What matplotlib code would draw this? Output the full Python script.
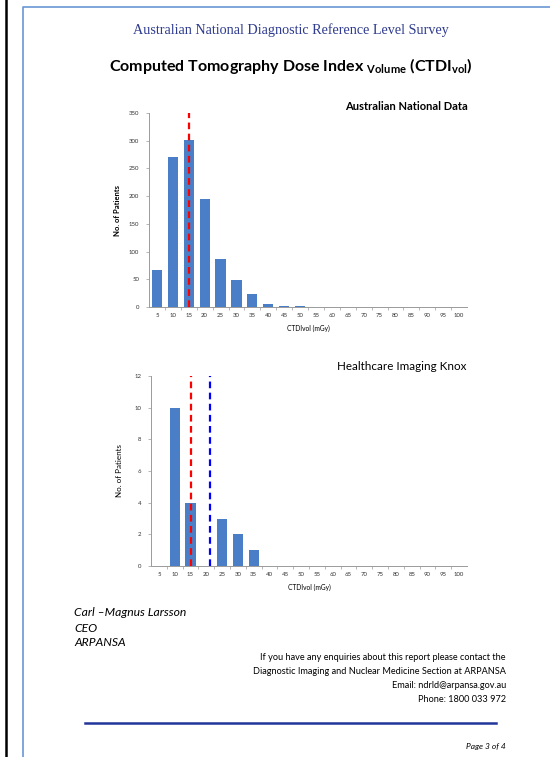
import matplotlib
matplotlib.use('Agg')
import matplotlib.pyplot as plt
from matplotlib.lines import Line2D

plt.rcParams['font.family'] = ['Lato', 'DejaVu Sans']

# CTDIvol bins (mGy)
ctdi_bins = [5, 10, 15, 20, 25, 30, 35, 40, 45, 50, 55, 60, 65, 70, 75, 80, 85, 90, 95, 100]
national_counts = [67, 270, 301, 195, 87, 48, 24, 5, 1, 1, 0, 0, 0, 0, 0, 0, 0, 0, 0, 0]
knox_counts = [0, 10, 4, 0, 3, 2, 1, 0, 0, 0, 0, 0, 0, 0, 0, 0, 0, 0, 0, 0]

national_drl = 15      # red dashed line
knox_median = 21.3     # blue dashed line

national_yticks = [0, 50, 100, 150, 200, 250, 300, 350]
knox_yticks = [0, 2, 4, 6, 8, 10, 12]

W, H = 550, 757
fig = plt.figure(figsize=(W / 100, H / 100), dpi=100)
fig.patch.set_facecolor('white')

BAR = '#4a7ec6'
NAVY = '#2f3c8f'


def px(x, y):
    return x / W, 1 - y / H


def style_axes(ax, yticks):
    for s in ['top', 'right']:
        ax.spines[s].set_visible(False)
    for s in ['left', 'bottom']:
        ax.spines[s].set_color('#9a9a9a')
        ax.spines[s].set_linewidth(0.7)
    ax.set_xlim(2.5, 102.5)
    ax.set_ylim(yticks[0], yticks[-1])
    ax.set_yticks(yticks)
    ax.set_xticks(ctdi_bins)
    ax.set_xticklabels([str(c) for c in ctdi_bins])
    ax.set_xticks([b + 2.5 for b in ctdi_bins[:-1]], minor=True)
    ax.tick_params(axis='x', which='major', length=0, labelsize=4.3, colors='#333333', pad=4)
    ax.tick_params(axis='x', which='minor', length=2, width=0.5, color='#9a9a9a')
    ax.tick_params(axis='y', length=2, width=0.5, color='#9a9a9a', labelsize=4.3,
                   labelcolor='#333333', pad=5)


# top chart: national data
ax1 = fig.add_axes([149 / W, 1 - 307 / H, 318 / W, 194 / H])
ax1.bar(ctdi_bins, national_counts, width=3.2, color=BAR, zorder=2)
ax1.vlines(national_drl, 0, 350, colors='red', linestyles=(0, (3, 2)), linewidth=1.6, zorder=3)
style_axes(ax1, national_yticks)
ax1.set_ylabel('No. of Patients', fontsize=5.5, fontweight='bold', labelpad=6)
ax1.set_xlabel('CTDIvol (mGy)', fontsize=4.8, labelpad=5)

# bottom chart: facility data
ax2 = fig.add_axes([151 / W, 1 - 566 / H, 316 / W, 190 / H])
ax2.bar(ctdi_bins, knox_counts, width=3.2, color=BAR, zorder=2)
ax2.vlines(national_drl, 0, 12, colors='red', linestyles=(0, (3, 2)), linewidth=1.6, zorder=3)
ax2.vlines(knox_median, 0, 12, colors='blue', linestyles=(0, (3, 2)), linewidth=1.6, zorder=3)
style_axes(ax2, knox_yticks)
ax2.set_ylabel('No. of Patients', fontsize=5.8, labelpad=8)
ax2.set_xlabel('CTDIvol (mGy)', fontsize=4.8, labelpad=5)

# page texts
fig.text(*px(291, 30), 'Australian National Diagnostic Reference Level Survey',
         family='Liberation Serif', fontsize=10.2, color=NAVY, ha='center', va='center')
fig.text(*px(291, 66),
         r'Computed Tomography Dose Index $_{\mathregular{Volume}}$ (CTDI$_{\mathregular{vol}}$)',
         fontsize=11.5, fontweight='bold', ha='center', va='center')
fig.text(*px(468, 106), 'Australian National Data', fontsize=8, fontweight='bold',
         ha='right', va='center')
fig.text(*px(466, 366), 'Healthcare Imaging Knox', fontsize=8.4, ha='right', va='center')

sig = ['Carl \u2013Magnus Larsson', 'CEO', 'ARPANSA']
for i, s in enumerate(sig):
    fig.text(*px(74, 613 + 15 * i), s, fontsize=8.7, style='italic', ha='left', va='center')

contact = ['If you have any enquiries about this report please contact the',
           'Diagnostic Imaging and Nuclear Medicine Section at ARPANSA',
           'Email: ndrld@arpansa.gov.au',
           'Phone: 1800 033 972']
for i, s in enumerate(contact):
    fig.text(*px(506, 657 + 14 * i), s, fontsize=6.6, ha='right', va='center')

fig.text(*px(506, 747), 'Page 3 of 4', fontsize=6, style='italic', ha='right', va='center')

# page decorations
fig.add_artist(Line2D([85 / W, 496 / W], [1 - 723 / H] * 2, color='#22359a', linewidth=1.8))
fig.add_artist(Line2D([6 / W, 6 / W], [0, 1], color='black', linewidth=1.8))
fig.add_artist(Line2D([23 / W, 23 / W, 1], [0, 1 - 7 / H, 1 - 7 / H], color='#6a96d4', linewidth=1.2))

fig.savefig('out.png', dpi=100)
